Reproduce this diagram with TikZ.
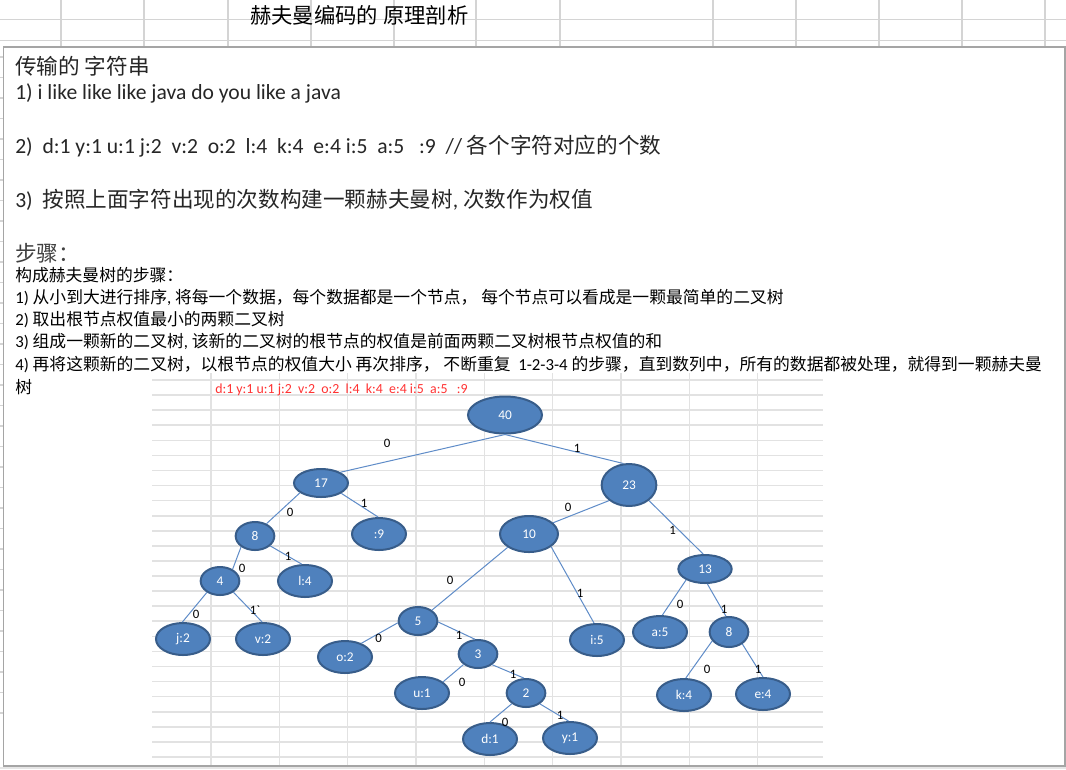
\documentclass[tikz,border=0pt]{standalone}
\usepackage{fontspec}
\setmainfont{Carlito}
\newfontfamily\cjk{Noto Sans CJK SC}
\usepackage{tikz}
\usetikzlibrary{shapes.geometric}
\definecolor{cellgrid}{RGB}{212,212,212}
\definecolor{imggrid}{RGB}{226,226,226}
\definecolor{boxframe}{RGB}{165,165,165}
\definecolor{bandgray}{RGB}{230,230,230}
\definecolor{nodeblue}{RGB}{79,129,189}
\definecolor{nodeedge}{RGB}{56,93,138}
\definecolor{linkblue}{RGB}{95,140,200}
\definecolor{countred}{RGB}{255,50,50}
\definecolor{bodytext}{RGB}{38,38,38}
\newcommand{\zh}[1]{{\cjk #1}}
\tikzstyle{bigline} = [anchor=west, inner sep=0pt, text=bodytext, font=\fontsize{16.2}{18}\selectfont]
\tikzstyle{smallline} = [anchor=west, inner sep=0pt, text=black, font=\fontsize{12.6}{15}\selectfont]
\tikzstyle{leaf} = [ellipse, draw=nodeedge, line width=1.5pt, fill=nodeblue, text=white, inner sep=0pt, minimum width=40.5pt, minimum height=24pt, font=\fontsize{10}{11}\selectfont]
\tikzstyle{inner} = [leaf, minimum width=29pt, minimum height=21pt]
\tikzstyle{link} = [draw=linkblue, line width=0.75pt]
\tikzstyle{bit} = [inner sep=0pt, text=black, font=\fontsize{9.6}{11}\selectfont]

\begin{document}
\begin{tikzpicture}[x=0.75pt, y=-0.75pt]
    \useasboundingbox (0,0) rectangle (1066,769);
    \fill[white] (0,0) rectangle (1066,769);
    % sheet cells behind the text box
    \foreach \gx in {61,144,228,311,394,476,560,713,796,879,962,1045}
        \draw[cellgrid, line width=0.9pt] (\gx,0) -- (\gx,47);
    \foreach \gy in {19.5,40.5}
        \draw[cellgrid, line width=0.9pt] (0,\gy) -- (1066,\gy);
    \foreach \k in {0,...,32}
        \draw[cellgrid, line width=0.9pt] (0,713-20.5*\k) -- (3.5,713-20.5*\k);
    \node[anchor=west, inner sep=0pt, font=\fontsize{16}{18}\selectfont] (title) at (250,15) {\zh{赫夫曼编码的 原理剖析}};
    \draw[boxframe, line width=1.1pt, fill=white] (3.5,47) rectangle (1065,766);
    \fill[bandgray] (0,766.6) rectangle (1066,769);

    \node[bigline] (head) at (15,66) {\zh{传输的 字符串}};
    \node[bigline] (l1) at (15,93) {1) i like like like java do you like a java};
    \node[bigline] (l2) at (15,146) {2)\ \ d:1 y:1 u:1 j:2\ \ v:2\ \ o:2\ \ l:4\ \ k:4\ \ e:4 i:5\ \ a:5\ \ \ :9\ \ // \zh{各个字符对应的个数}};
    \node[bigline] (l3) at (15,200) {3)\ \ \zh{按照上面字符出现的次数构建一颗赫夫曼树}, \zh{次数作为权值}};
    \node[bigline, text=black!75] (steps) at (15,253) {\zh{步骤：}};
    \node[smallline] (s0) at (15,275) {\zh{构成赫夫曼树的步骤：}};
    \node[smallline] (s1) at (15,298) {1) \zh{从小到大进行排序}, \zh{将每一个数据，每个数据都是一个节点，} \zh{每个节点可以看成是一颗最简单的二叉树}};
    \node[smallline] (s2) at (15,320) {2) \zh{取出根节点权值最小的两颗二叉树}};
    \node[smallline] (s3) at (15,342) {3) \zh{组成一颗新的二叉树}, \zh{该新的二叉树的根节点的权值是前面两颗二叉树根节点权值的和}};
    \node[smallline] (s4) at (15,365) {4) \zh{再将这颗新的二叉树，以根节点的权值大小} \zh{再次排序，} \zh{不断重复}\ \ 1-2-3-4 \zh{的步骤，直到数列中，所有的数据都被处理，就得到一颗赫夫曼}};
    \node[smallline] (s4b) at (15,387) {\zh{树}};

    % the pasted tree picture
    \foreach \k in {0,...,25}
        \draw[imggrid, line width=1.2pt] (152,380+15.08*\k) -- (823,380+15.08*\k);
    \foreach \gx in {211,279.3,347.6,416,484.3,552.6,621,689.3,757.6}
        \draw[imggrid, line width=1.2pt] (\gx,373) -- (\gx,765);
    \node[anchor=west, inner sep=0pt, text=countred, font=\fontsize{10.4}{12}\selectfont] (counts) at (215,390) {d:1 y:1 u:1 j:2\ \ v:2\ \ o:2\ \ l:4\ \ k:4\ \ e:4 i:5\ \ a:5\ \ \ :9};

    \node[leaf, minimum width=55.5pt, minimum height=27.75pt] (n40) at (505,415) {40};
    \node[leaf, minimum height=21pt] (n17) at (321,483) {17};
    \node[leaf, minimum width=41pt, minimum height=31.5pt] (n23) at (629,485) {23};
    \node[inner] (n8a) at (255,536) {8};
    \node[leaf] (n9) at (379,534) {:9};
    \node[leaf, minimum width=43.5pt, minimum height=27pt] (n10) at (529,534) {10};
    \node[inner] (n4) at (220,581) {4};
    \node[leaf] (nl) at (305,581) {l:4};
    \node[leaf, minimum width=40pt, minimum height=21pt] (n13) at (705,569) {13};
    \node[leaf] (nj) at (183,639) {j:2};
    \node[leaf] (nv) at (263,639) {v:2};
    \node[inner] (n5) at (418,621) {5};
    \node[leaf] (no) at (345,657) {o:2};
    \node[inner] (n3) at (478,654) {3};
    \node[leaf] (ni) at (597,640) {i:5};
    \node[leaf] (na) at (660,632) {a:5};
    \node[inner, minimum height=22.5pt] (n8b) at (729,632) {8};
    \node[leaf] (nu) at (422,693) {u:1};
    \node[inner] (n2) at (526,693) {2};
    \node[leaf] (nk) at (684,695) {k:4};
    \node[leaf] (ne) at (763,694) {e:4};
    \node[leaf] (nd) at (490,739) {d:1};
    \node[leaf] (ny) at (570,738) {y:1};

    \draw[link] (n40.south) -- (n17.29);
    \draw[link] (n40.south) -- (n23.105);
    \draw[link] (n17.205) -- (n8a.47);
    \draw[link] (n17.-27) -- (n9.93);
    \draw[link] (n23.218) -- (n10.25);
    \draw[link] (n23.-38) -- (n13.97);
    \draw[link] (n8a.218) -- (n4.43);
    \draw[link] (n8a.-33) -- (nl.101);
    \draw[link] (n10.212) -- (n5.38);
    \draw[link] (n10.-30) -- (ni.100);
    \draw[link] (n13.210) -- (na.82);
    \draw[link] (n13.-81) -- (n8b.101);
    \draw[link] (n4.221) -- (nj.92);
    \draw[link] (n4.-40) -- (nv.93);
    \draw[link] (n5.185) -- (no.40);
    \draw[link] (n5.-3) -- (n3.102);
    \draw[link] (n3.216) -- (nu.28);
    \draw[link] (n3.-37) -- (n2.98);
    \draw[link] (n8b.208) -- (nk.84);
    \draw[link] (n8b.-42) -- (ne.90);
    \draw[link] (n2.217) -- (nd.90);
    \draw[link] (n2.-38) -- (ny.95);

    \node[bit] (b40a) at (387,443) {0};
    \node[bit] (b40b) at (577,448) {1};
    \node[bit] (b17a) at (290,512) {0};
    \node[bit] (b17b) at (364,503) {1};
    \node[bit] (b23a) at (568,507) {0};
    \node[bit] (b23b) at (672.5,530) {1};
    \node[bit] (b8a) at (242,568) {0};
    \node[bit] (b8b) at (288,556) {1};
    \node[bit] (b10a) at (450,580) {0};
    \node[bit] (b10b) at (580,593) {1};
    \node[bit] (b13a) at (680,604) {0};
    \node[bit] (b13b) at (724,609) {1};
    \node[bit] (b4a) at (196,614) {0};
    \node[bit] (b4b) at (255,610) {1\textasciigrave};
    \node[bit] (b5a) at (378.5,638) {0};
    \node[bit] (b5b) at (459,635) {1};
    \node[bit] (b3a) at (462,682) {0};
    \node[bit] (b3b) at (513,674) {1};
    \node[bit] (b8c) at (707,669) {0};
    \node[bit] (b8d) at (758,669) {1};
    \node[bit] (b2a) at (505,722) {0};
    \node[bit] (b2b) at (560,715) {1};
\end{tikzpicture}
\end{document}
